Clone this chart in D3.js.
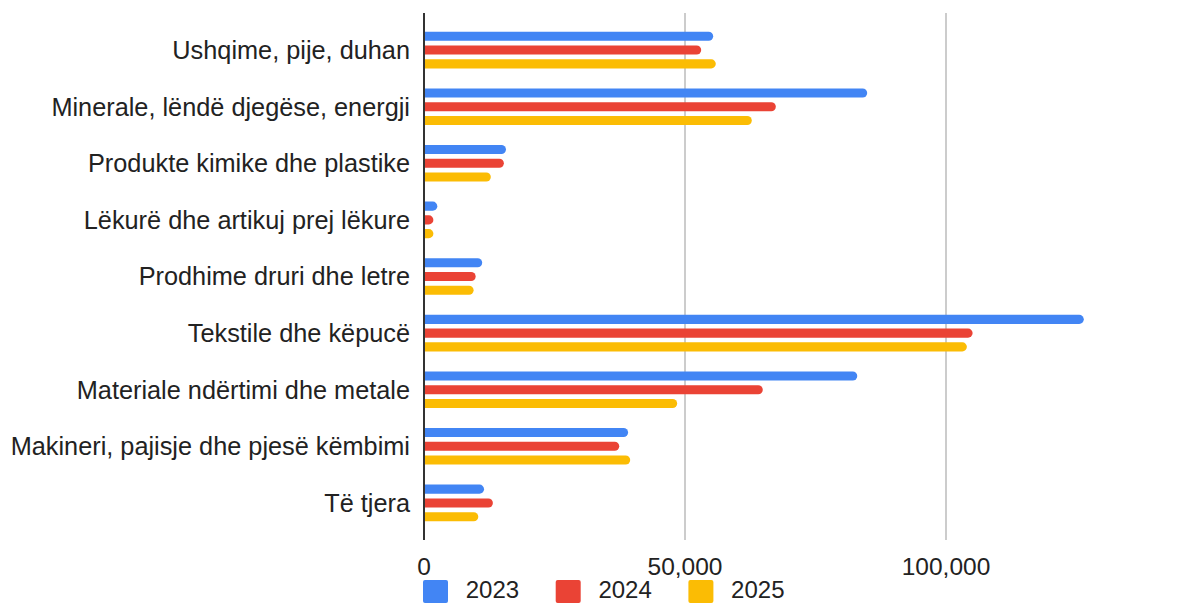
<!DOCTYPE html>
<html>
<head>
<meta charset="utf-8">
<script src="https://d3js.org/d3.v7.min.js"></script>
<style>
  body { margin: 0; background: #fff; }
  text { font-family: "Liberation Sans", Arial, sans-serif; fill: #222; }
</style>
</head>
<body>
<svg width="1202" height="603"></svg>
<script>
  // categories and values
  var categories = [
    "Ushqime, pije, duhan",
    "Minerale, lëndë djegëse, energji",
    "Produkte kimike dhe plastike",
    "Lëkurë dhe artikuj prej lëkure",
    "Prodhime druri dhe letre",
    "Tekstile dhe këpucë",
    "Materiale ndërtimi dhe metale",
    "Makineri, pajisje dhe pjesë këmbimi",
    "Të tjera"
  ];
  var years = ["2023", "2024", "2025"];
  var v2023 = [55400, 84900, 15700, 2550, 11150, 126400, 83000, 39100, 11500];
  var v2024 = [53100, 67400, 15300, 1800, 9900, 105100, 64900, 37400, 13200];
  var v2025 = [55900, 62800, 12800, 1800, 9500, 104000, 48500, 39500, 10400];
  var xTicks = [0, 50000, 100000];
  var colors = ["#4285F4", "#EA4335", "#FBBC04"];

  var series = [v2023, v2024, v2025];

  var svg = d3.select("svg");

  var x = d3.scaleLinear().domain([0, 150000]).range([424, 1207]);
  var y = d3.scaleBand().domain(categories).range([13, 540]).paddingOuter(0.155).paddingInner(0);
  var y1 = d3.scaleBand().domain(years).range([-18.3, 18.3]).paddingInner(0.34).paddingOuter(0);

  // gridlines
  svg.append("g")
    .selectAll("line")
    .data(xTicks.filter(function (d) { return d > 0; }))
    .enter()
    .append("line")
    .attr("x1", function (d) { return x(d); })
    .attr("x2", function (d) { return x(d); })
    .attr("y1", 13)
    .attr("y2", 540)
    .attr("stroke", "#cccccc")
    .attr("stroke-width", 2);

  // bars: square at the axis, round at the end
  function barPath(x0, x1, yTop, h) {
    var r = Math.min(h / 2, (x1 - x0));
    return "M" + x0 + "," + yTop +
      "H" + (x1 - r) +
      "A" + r + "," + (h / 2) + " 0 0 1 " + (x1 - r) + "," + (yTop + h) +
      "H" + x0 + "Z";
  }

  var groups = svg.append("g")
    .selectAll("g")
    .data(categories)
    .enter()
    .append("g")
    .attr("transform", function (d) { return "translate(0," + (y(d) + y.bandwidth() / 2) + ")"; });

  groups.selectAll("path")
    .data(function (d, i) {
      return years.map(function (yr, k) { return { year: yr, value: series[k][i], k: k }; });
    })
    .enter()
    .append("path")
    .attr("d", function (d) { return barPath(x(0), x(d.value), y1(d.year), y1.bandwidth()); })
    .attr("fill", function (d) { return colors[d.k]; });

  // category labels
  groups.append("text")
    .attr("x", 410)
    .attr("dy", "0.35em")
    .attr("text-anchor", "end")
    .style("font-size", "25.3px")
    .text(function (d) { return d; });

  // axis line
  svg.append("line")
    .attr("x1", x(0)).attr("x2", x(0))
    .attr("y1", 13).attr("y2", 540)
    .attr("stroke", "#333")
    .attr("stroke-width", 2);

  // x tick labels
  svg.append("g")
    .selectAll("text")
    .data(xTicks)
    .enter()
    .append("text")
    .attr("x", function (d) { return x(d); })
    .attr("y", 575)
    .attr("text-anchor", "middle")
    .style("font-size", "24.5px")
    .text(d3.format(","));

  // legend
  var legend = svg.append("g")
    .selectAll("g")
    .data(years)
    .enter()
    .append("g")
    .attr("transform", function (d, i) { return "translate(" + (423 + i * 132.7) + ",580)"; });

  legend.append("rect")
    .attr("width", 25)
    .attr("height", 23)
    .attr("rx", 2)
    .attr("fill", function (d, i) { return colors[i]; });

  legend.append("text")
    .attr("x", 42.7)
    .attr("y", 17.5)
    .style("font-size", "24px")
    .text(function (d) { return d; });
</script>
</body>
</html>
